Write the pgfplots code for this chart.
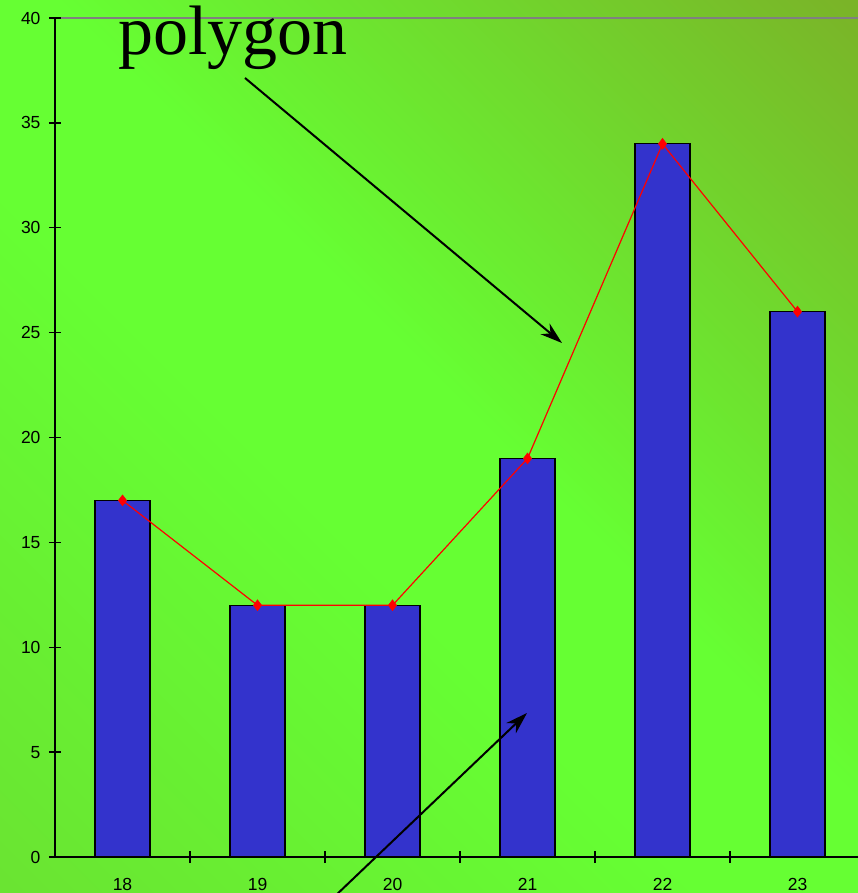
\documentclass[border=0pt]{standalone}
\usepackage{pgfplots}
\pgfplotsset{compat=1.18}
\usepackage{fontspec}
\setmainfont{Liberation Sans}
\newfontfamily\timesfont{Liberation Serif}
\usetikzlibrary{arrows.meta}
\definecolor{bgmid}{HTML}{66FF33}
\definecolor{bgbl}{HTML}{6AE432}
\definecolor{bgtr}{HTML}{7AB428}
\definecolor{barblue}{HTML}{3333CC}
\pgfdeclareverticalshading{bgshade}{100bp}{color(0bp)=(bgbl); color(15bp)=(bgbl); color(43bp)=(bgmid); color(53bp)=(bgmid); color(85bp)=(bgtr); color(100bp)=(bgtr)}
\begin{document}
\begin{tikzpicture}
\useasboundingbox (0pt,0pt) rectangle (858pt,893pt);
\clip (0pt,0pt) rectangle (858pt,893pt);
\shade[shading=bgshade, shading angle=-45] (0pt,0pt) rectangle (858pt,893pt);
\draw[gray, line width=1.3pt] (55pt,875pt) -- (860pt,875pt);
\begin{axis}[
  at={(55pt,36pt)}, anchor=south west,
  x=135pt, y=20.975pt,
  xmin=-0.5, xmax=5.46, ymin=0, ymax=40,
  axis x line*=bottom, axis y line*=left,
  axis line style={black, line width=1.3pt},
  tick align=center,
  major tick length=12pt, minor tick length=12pt,
  every tick/.style={black, line width=1.3pt},
  ytick={0,5,...,40},
  xtick={0,1,2,3,4,5},
  xticklabels={18,19,20,21,22,23},
  major x tick style={draw=none},
  minor xtick={0.5,1.5,2.5,3.5,4.5},
  ticklabel style={font=\fontsize{17.5}{20}\selectfont},
  yticklabel style={xshift=-5pt},
  xticklabel style={yshift=-12pt},
  /pgf/number format/assume math mode=true,
  clip=false,
]
\addplot[ybar, bar width=55pt, fill=barblue, draw=black, line width=1.3pt]
  coordinates {(0,17) (1,12) (2,12) (3,19) (4,34) (5,26)};
\addplot[red, line width=1.2pt, mark=diamond*, mark size=5.5pt, mark options={fill=red, draw=red, line width=0.5pt}]
  coordinates {(0,17) (1,12) (2,12) (3,19) (4,34) (5,26)};
\end{axis}
\draw[-{Stealth[length=22pt, width=14pt, inset=7pt]}, line width=2pt] (245pt,815pt) -- (562pt,550pt);
\draw[-{Stealth[length=22pt, width=14pt, inset=7pt]}, line width=2pt] (333pt,-5pt) -- (527pt,180pt);
\node[anchor=base west, inner sep=0pt, font=\timesfont\fontsize{70}{80}\selectfont] at (118pt,838pt) {polygon};
\end{tikzpicture}
\end{document}
